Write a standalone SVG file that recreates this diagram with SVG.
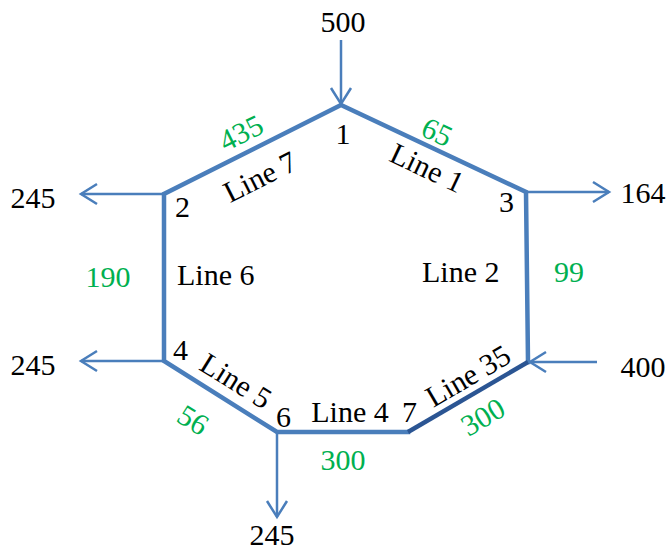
<svg xmlns="http://www.w3.org/2000/svg" width="669" height="550" viewBox="0 0 669 550">
  <defs>
    <style>
      text { font-family: "Liberation Serif", "Times New Roman", serif; font-size: 30px; fill: #000; }
      .flow { fill: #00B050; }
      .pipe { fill: none; stroke: #4A7EBB; stroke-width: 4.5; stroke-linecap: square; }
      .pipe-dark { fill: none; stroke: #2B5593; stroke-width: 4.5; }
      .demand { fill: none; stroke: #4A7EBB; stroke-width: 2.5; }
    </style>
    <marker id="arrow" markerUnits="userSpaceOnUse" markerWidth="24" markerHeight="24" viewBox="-20 -12 24 24" refX="0" refY="0" orient="auto">
      <path d="M-16,-10 L0,0 L-16,10" fill="none" stroke="#4A7EBB" stroke-width="2.5"/>
    </marker>
  </defs>

  <!-- pipes and supply/demand arrows -->
  <g id="connectors">
    <path class="pipe" d="M408,432 L277,432 L164,361 L164,194 L341,105 L526,192 L528,362"/>
    <path class="pipe-dark" d="M408,432 L528,362"/>
    <line class="demand" x1="341" y1="40" x2="341" y2="104" marker-end="url(#arrow)"/>
    <line class="demand" x1="526" y1="192" x2="609" y2="192" marker-end="url(#arrow)"/>
    <line class="demand" x1="164" y1="194" x2="81" y2="194" marker-end="url(#arrow)"/>
    <line class="demand" x1="164" y1="361" x2="81" y2="361" marker-end="url(#arrow)"/>
    <line class="demand" x1="597" y1="362" x2="530" y2="362" marker-end="url(#arrow)"/>
    <line class="demand" x1="277" y1="432" x2="277" y2="517" marker-end="url(#arrow)"/>
  </g>

  <!-- junction nodes -->
  <g id="node-1"><text x="343" y="144" text-anchor="middle">1</text></g>
  <g id="node-2"><text x="175" y="217">2</text></g>
  <g id="node-3"><text x="499" y="212">3</text></g>
  <g id="node-4"><text x="173" y="360">4</text></g>
  <g id="node-6"><text x="276" y="427">6</text></g>
  <g id="node-7"><text x="402" y="422">7</text></g>

  <!-- external flows -->
  <g id="supply-500"><text x="343" y="32" text-anchor="middle">500</text></g>
  <g id="demand-164"><text x="643" y="203" text-anchor="middle">164</text></g>
  <g id="demand-245-a"><text x="33" y="208" text-anchor="middle">245</text></g>
  <g id="demand-245-b"><text x="33" y="375" text-anchor="middle">245</text></g>
  <g id="supply-400"><text x="643" y="377" text-anchor="middle">400</text></g>
  <g id="demand-245-c"><text x="272" y="545" text-anchor="middle">245</text></g>

  <!-- pipe labels and pipe flows -->
  <g id="line-7">
    <text transform="translate(260,177) rotate(-26.7)" x="0" y="10" text-anchor="middle">Line 7</text>
    <text class="flow" transform="translate(241,133) rotate(-26.7)" x="0" y="10" text-anchor="middle">435</text>
  </g>
  <g id="line-1">
    <text transform="translate(427,168) rotate(25.2)" x="0" y="10" text-anchor="middle">Line 1</text>
    <text class="flow" transform="translate(437,132) rotate(25.2)" x="0" y="10" text-anchor="middle">65</text>
  </g>
  <g id="line-6">
    <text x="177" y="285">Line 6</text>
    <text class="flow" x="108" y="287" text-anchor="middle">190</text>
  </g>
  <g id="line-2">
    <text x="422" y="282">Line 2</text>
    <text class="flow" x="554" y="282">99</text>
  </g>
  <g id="line-5">
    <text transform="translate(236,381) rotate(32)" x="0" y="10" text-anchor="middle">Line 5</text>
    <text class="flow" transform="translate(193,420) rotate(32)" x="0" y="10" text-anchor="middle">56</text>
  </g>
  <g id="line-4">
    <text x="350" y="422" text-anchor="middle">Line 4</text>
    <text class="flow" x="343" y="470" text-anchor="middle">300</text>
  </g>
  <g id="line-35">
    <text transform="translate(468,376) rotate(-30.3)" x="0" y="10" text-anchor="middle">Line 35</text>
    <text class="flow" transform="translate(483,417) rotate(-30.3)" x="0" y="10" text-anchor="middle">300</text>
  </g>
</svg>
